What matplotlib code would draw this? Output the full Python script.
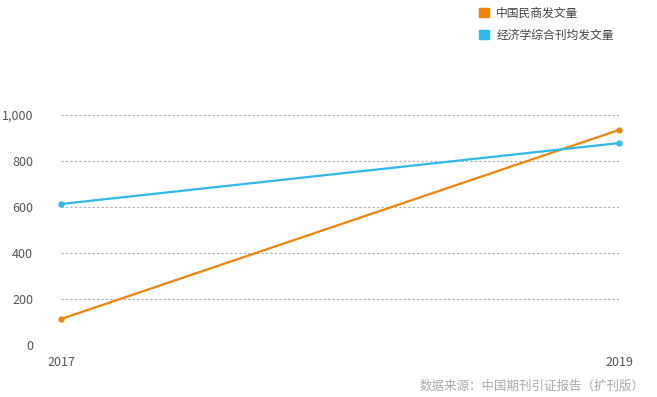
import matplotlib
matplotlib.use("Agg")
import matplotlib.pyplot as plt
from matplotlib.patches import Patch

plt.rcParams['font.family'] = ['Noto Sans CJK SC', 'DejaVu Sans']

years = [2017, 2019]
minshang = [113, 935]
jingji = [613, 878]
series_names = ["中国民商发文量", "经济学综合刊均发文量"]
colors = ["#F0830A", "#2DB8EE"]
yticks = [0, 200, 400, 600, 800, 1000]
ytick_labels = ["0", "200", "400", "600", "800", "1,000"]
source = "数据来源：中国期刊引证报告（扩刊版）"

fig = plt.figure(figsize=(6.57, 3.97), dpi=100)
ax = fig.add_axes([61/657, 1-345/397, (619-61)/657, (345-115)/397])

for vals, c in zip([minshang, jingji], colors):
    ax.plot(years, vals, color=c, lw=1.6, marker='o', ms=3.5, clip_on=False, zorder=3)

ax.set_xlim(2017, 2019)
ax.set_ylim(0, 1000)
ax.set_yticks(yticks)
ax.set_yticklabels(ytick_labels)
ax.set_xticks(years)
ax.set_xticklabels([str(y) for y in years])
ax.grid(axis='y', linestyle=(0, (2, 2)), color='#aaaaaa', lw=0.8)
ax.grid(axis='x', visible=False)
for s in ax.spines.values():
    s.set_visible(False)
ax.tick_params(length=0, labelsize=9, colors='#555555')
ax.tick_params(axis='y', pad=20)
ax.tick_params(axis='x', pad=8)

handles = [Patch(color=c, label=n) for c, n in zip(colors, series_names)]
fig.legend(handles=handles, loc='upper left', bbox_to_anchor=(468/657, 1.01),
           frameon=False, fontsize=8.5, handlelength=0.9, handleheight=0.9,
           labelspacing=0.75, handletextpad=0.6, labelcolor='#444444')

fig.text(645/657, 1-386/397, source, ha='right', va='center', fontsize=9, color='#aaaaaa')

fig.savefig("out.png", dpi=100)
